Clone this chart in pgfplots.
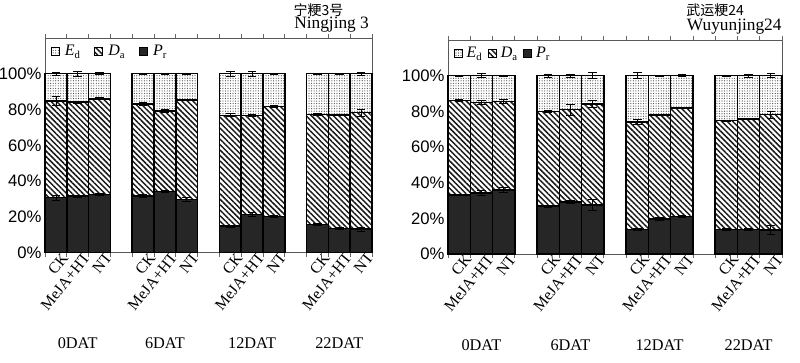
\documentclass[border=0pt]{standalone}
\usepackage{pgfplots}
\pgfplotsset{compat=1.18}
\usepackage{pgfplotstable}
\usetikzlibrary{patterns,patterns.meta}
\usepackage{fontspec}
\setmainfont{Liberation Serif}
\setsansfont{Liberation Sans}
\newfontfamily\cjk{Noto Sans CJK SC}

\pgfplotstableread{
x Pr Da Ed ePr eDa eEd
0 30.7 54.1 15.2 1.5 2.5 1.0
1 31.5 52.6 15.9 0.5 0.5 1.2
2 32.4 53.6 14.0 0.5 0.5 0.5
4 31.5 51.5 17.0 0.8 0.8 0.3
5 34.1 45.1 20.8 0.5 0.8 0.3
6 29.6 55.8 14.6 1.0 0.5 0.3
8 14.8 62.0 23.2 0.5 0.8 1.2
9 21.2 55.4 23.4 1.2 0.5 1.2
10 20.2 61.4 18.4 0.5 0.5 0.3
12 15.7 61.6 22.7 0.5 0.5 0.3
13 13.3 63.7 23.0 0.5 0.5 0.3
14 13.1 65.2 21.7 1.0 2.0 1.0
}\leftdata

\pgfplotstableread{
x Pr Da Ed ePr eDa eEd
0 33.0 53.0 14.0 0.3 0.5 0.3
1 34.3 50.8 14.9 1.5 1.0 1.0
2 35.8 49.7 14.5 1.5 1.0 0.3
4 26.8 53.1 20.1 0.5 0.5 0.8
5 29.2 51.8 19.0 1.0 3.0 0.8
6 27.4 56.8 15.8 3.0 2.0 1.8
8 13.8 60.1 26.1 0.3 1.5 1.8
9 19.6 58.4 22.0 0.8 0.5 0.3
10 20.9 61.0 18.1 0.5 0.5 0.5
12 13.8 61.1 25.1 0.3 0.3 0.3
13 13.8 62.0 24.2 0.5 0.5 0.8
14 13.4 64.8 21.8 2.5 2.0 1.0
}\rightdata

\pgfplotsset{
  EdStyle/.style={draw=black, line width=1.1pt, pattern={Dots[distance=1.9pt,radius=0.45pt]}, pattern color=black!70},
  DaStyle/.style={draw=black, line width=1.1pt, pattern={Lines[angle=-45,distance=2.9pt,line width=1.1pt]}, pattern color=black!90},
  PrStyle/.style={draw=black, line width=1.1pt, fill=black!85},
  errs/.style={error bars/.cd, y dir=both, y explicit,
     error bar style={black, line width=0.6pt},
     error mark options={rotate=90, mark size=3.2pt, black, line width=0.6pt}},
  myaxis/.style={
    scale only axis, ybar stacked, bar width=1,
    xmin=-0.5, xmax=14.5, ymin=0, ymax=120,
    ytick={0,20,40,60,80,100},
    yticklabels={0\%,20\%,40\%,60\%,80\%,100\%},
    yticklabel style={font=\sffamily\fontsize{12.5}{13}\selectfont, inner sep=1pt, xshift=-1.5pt},
    xtick={0,1,2,4,5,6,8,9,10,12,13,14},
    xticklabels={CK,MeJA+HT,NT,CK,MeJA+HT,NT,CK,MeJA+HT,NT,CK,MeJA+HT,NT},
    xticklabel style={rotate=51, anchor=east, font=\fontsize{11.8}{12}\selectfont, inner sep=0pt, xshift=3pt, yshift=-6.5pt},
    major tick length=0pt,
    extra x ticks={-0.5,0.5,1.5,2.5,3.5,4.5,5.5,6.5,7.5,8.5,9.5,10.5,11.5,12.5,13.5,14.5},
    extra x tick labels={},
    extra x tick style={major tick length=3pt, tick align=outside, tick style={gray!80!black, line width=0.6pt}},
    axis line style={gray!70!black, line width=0.7pt},
    clip=false,
    legend columns=3,
    legend style={draw=none, fill=none, at={(0.012,0.985)}, anchor=north west,
      font=\fontsize{12}{13}\selectfont, inner sep=1pt},
    legend image code/.code={\draw[##1, line width=0.8pt] (0pt,-3pt) rectangle (6pt,3pt);},
  }
}

\begin{document}
\begin{tikzpicture}
\useasboundingbox (0,0) rectangle (600pt,-271.5pt);

% left panel
\begin{axis}[myaxis, at={(33.75pt,-189.4pt)}, anchor=south west, width=245.25pt, height=160.9pt,
  legend style={/tikz/every even column/.append style={column sep=8pt}, /tikz/every odd column/.append style={column sep=2pt}}]
\addlegendimage{EdStyle, line width=0.8pt}
\addlegendentry{\textit{E}\textsubscript{d}}
\addlegendimage{DaStyle, line width=0.8pt}
\addlegendentry{\textit{D}\textsubscript{a}}
\addlegendimage{PrStyle, line width=0.8pt}
\addlegendentry{\textit{P}\textsubscript{r}}
\addplot[PrStyle, forget plot, errs] table[x=x, y=Pr, y error=ePr] {\leftdata};
\addplot[DaStyle, forget plot, errs] table[x=x, y=Da, y error=eDa] {\leftdata};
\addplot[EdStyle, forget plot, errs] table[x=x, y=Ed, y error=eEd] {\leftdata};
\node[anchor=base, font=\fontsize{12.2}{13}\selectfont] at ([yshift=-71.6pt]axis cs:1,0) {0DAT};
\node[anchor=base, font=\fontsize{12.2}{13}\selectfont] at ([yshift=-71.6pt]axis cs:5,0) {6DAT};
\node[anchor=base, font=\fontsize{12.2}{13}\selectfont] at ([yshift=-71.6pt]axis cs:9,0) {12DAT};
\node[anchor=base, font=\fontsize{12.2}{13}\selectfont] at ([yshift=-71.6pt]axis cs:13,0) {22DAT};
\end{axis}

% right panel
\begin{axis}[myaxis, at={(336pt,-190.5pt)}, anchor=south west, width=250.5pt, height=160.5pt,
  legend style={/tikz/every even column/.append style={column sep=2pt}, /tikz/every odd column/.append style={column sep=1pt}}]
\addlegendimage{EdStyle, line width=0.8pt}
\addlegendentry{\textit{E}\textsubscript{d}}
\addlegendimage{DaStyle, line width=0.8pt}
\addlegendentry{\textit{D}\textsubscript{a}}
\addlegendimage{PrStyle, line width=0.8pt}
\addlegendentry{\textit{P}\textsubscript{r}}
\addplot[PrStyle, forget plot, errs] table[x=x, y=Pr, y error=ePr] {\rightdata};
\addplot[DaStyle, forget plot, errs] table[x=x, y=Da, y error=eDa] {\rightdata};
\addplot[EdStyle, forget plot, errs] table[x=x, y=Ed, y error=eEd] {\rightdata};
\node[anchor=base, font=\fontsize{12.2}{13}\selectfont] at ([yshift=-72pt]axis cs:1,0) {0DAT};
\node[anchor=base, font=\fontsize{12.2}{13}\selectfont] at ([yshift=-72pt]axis cs:5,0) {6DAT};
\node[anchor=base, font=\fontsize{12.2}{13}\selectfont] at ([yshift=-72pt]axis cs:9,0) {12DAT};
\node[anchor=base, font=\fontsize{12.2}{13}\selectfont] at ([yshift=-72pt]axis cs:13,0) {22DAT};
\end{axis}

% titles
\node[anchor=base west, inner sep=0pt, font=\cjk\fontsize{10.5}{12}\selectfont] at (220pt,-11.5pt) {宁粳3号};
\node[anchor=base west, inner sep=0pt, font=\fontsize{13}{14}\selectfont] at (220.5pt,-21.5pt) {Ningjing 3};
\node[anchor=base west, inner sep=0pt, font=\cjk\fontsize{10.5}{12}\selectfont] at (514.5pt,-11.5pt) {武运粳24};
\node[anchor=base west, inner sep=0pt, font=\fontsize{13}{14}\selectfont] at (515pt,-22.5pt) {Wuyunjing24};
\end{tikzpicture}
\end{document}
